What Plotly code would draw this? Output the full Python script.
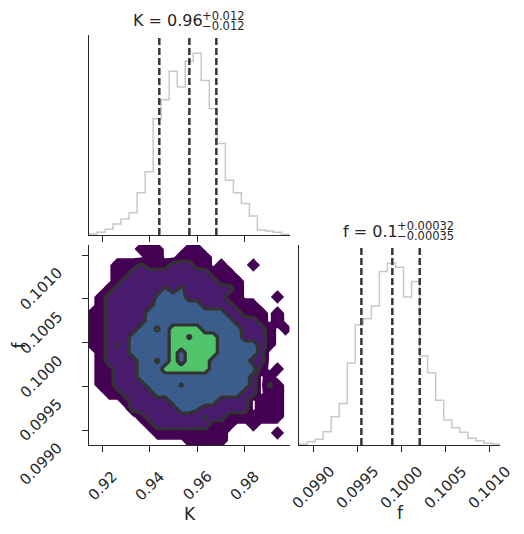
import numpy as np
import plotly.graph_objects as go

W, H = 524, 534

# ---------------- data ----------------
k_range = [0.9143, 0.9990]
f_range = [0.098833, 0.101114]
n_bins = 25

k_counts = [3, 8, 17, 33, 48, 67, 127, 190, 350, 407, 493, 445, 523, 547, 465,
            380, 275, 165, 127, 95, 57, 15, 12, 8, 2]
f_counts = [2, 10, 17, 40, 85, 125, 247, 362, 380, 418, 522, 547, 535, 445, 492,
            268, 217, 135, 75, 52, 38, 20, 13, 5, 3]

k_quantiles = [0.9440, 0.9567, 0.9681]
f_quantiles = [0.099541, 0.099892, 0.100203]

k_ticks = [0.92, 0.94, 0.96, 0.98]
k_ticklabels = ["0.92", "0.94", "0.96", "0.98"]
f_ticks = [0.0990, 0.0995, 0.1000, 0.1005, 0.1010]
f_ticklabels = ["0.0990", "0.0995", "0.1000", "0.1005", "0.1010"]

k_title = ["K = 0.96", "+0.012", "−0.012"]
f_title = ["f = 0.1", "+0.00032", "−0.00035"]

# 2D density: per grid row (top -> bottom), runs of cells (first, last) at each level
L1_rows = [
    [(6, 8), (12, 13)],
    [(7, 8), (11, 14)],
    [(3, 9), (13, 14), (16, 16), (20, 20)],
    [(3, 17)],
    [(3, 18)],
    [(2, 18)],
    [(1, 18), (23, 23)],
    [(1, 20)],
    [(0, 21), (23, 23)],
    [(0, 21), (23, 23)],
    [(0, 22), (24, 24)],
    [(0, 22)],
    [(0, 22)],
    [(1, 21)],
    [(1, 21)],
    [(1, 21), (23, 23)],
    [(1, 20), (22, 22)],
    [(1, 20), (22, 23)],
    [(2, 20), (22, 23)],
    [(4, 19), (21, 23)],
    [(5, 19), (21, 23)],
    [(6, 23)],
    [(7, 17), (20, 20)],
    [(8, 16), (23, 23)],
    [(12, 16)],
]
L2_rows = [
    [], [], [(6, 6), (10, 12)], [(5, 14)], [(4, 15)], [(3, 17)], [(2, 16)], [(2, 17)],
    [(2, 18)], [(2, 20)], [(2, 21)], [(2, 21)], [(2, 21)], [(2, 21)], [(2, 21)],
    [(3, 20)], [(3, 20)], [(3, 20)], [(4, 20)], [(5, 19)], [(5, 19)], [(7, 16)],
    [(8, 14)], [], [],
]
L3_rows = [
    [], [], [], [], [], [], [(9, 11)], [(8, 13)], [(7, 16)], [(7, 17)], [(6, 18)],
    [(5, 18)], [(5, 20)], [(5, 20)], [(6, 19)], [(6, 20)], [(6, 19)], [(7, 19)],
    [(8, 18)], [(10, 15)], [(11, 12)], [], [], [], [],
]
L4_rows = [
    [], [], [], [], [], [], [], [], [], [], [(10, 13)], [(10, 15)], [(10, 15)],
    [(10, 15)], [(10, 14)], [(9, 14)], [], [], [], [], [], [], [], [], [],
]
# single cells with in-between density (col, row, value)
cell_tweaks = [(6, 2, 1.3), (9, 5, 2.3), (11, 5, 2.35), (8, 6, 2.25), (8, 10, 3.3),
               (12, 11, 2.95), (11, 13, 2.6), (11, 14, 2.6), (8, 14, 3.25),
               (11, 17, 2.0), (14, 21, 1.0), (3, 12, 1.0), (22, 17, 1.3), (13, 20, 2.2),
               (17, 8, 1.6)]
level_values = [0.6, 1.6, 2.6, 3.6]
level_thresholds = [0.1, 1.1, 2.1, 3.1]
level_colors = ["#440154", "#481b6d", "#3a5d8c", "#50c46a"]

# ---------------- styles ----------------
INK = "#262626"
FONT = "DejaVu Sans"
HIST_COLOR = "#c8c8c8"
DASH_COLOR = "#363636"
CONTOUR_LINE = "#333333"


def px(x):
    return x / W


def py(y):
    return 1 - y / H


col1 = [89 / W, 289.5 / W]
col2 = [299 / W, 500 / W]
row1 = [py(235), py(35)]
row2 = [py(445), py(245)]

# ---------------- build 2D grid ----------------
N = n_bins
Z = np.zeros((N, N))
for lvl, rows in enumerate([L1_rows, L2_rows, L3_rows, L4_rows]):
    for j, runs in enumerate(rows):
        for a, b in runs:
            Z[j, a:b + 1] = level_values[lvl]
for i, j, v in cell_tweaks:
    Z[j, i] = v

dk = (k_range[1] - k_range[0]) / N
df = (f_range[1] - f_range[0]) / N
Zp = np.zeros((N + 2, N + 2))
Zp[1:-1, 1:-1] = Z[::-1]          # flip so row index increases with f
xc = k_range[0] + (np.arange(-1, N + 1) + 0.5) * dk
yc = f_range[0] + (np.arange(-1, N + 1) + 0.5) * df

fig = go.Figure()

# filled density levels
for t, c in zip(level_thresholds, level_colors):
    fig.add_trace(go.Contour(
        x=xc, y=yc, z=Zp,
        contours=dict(type="constraint", operation="<", value=t),
        fillcolor=c,
        line=dict(color=c, width=0, smoothing=0),
        showscale=False, hoverinfo="skip",
        xaxis="x2", yaxis="y2",
    ))
# contour lines on top (all but the outermost level)
fig.add_trace(go.Contour(
    x=xc, y=yc, z=Zp,
    autocontour=False,
    contours=dict(coloring="none", start=level_thresholds[1], end=level_thresholds[-1],
                  size=level_thresholds[2] - level_thresholds[1]),
    line=dict(color=CONTOUR_LINE, width=3.2, smoothing=0),
    showscale=False, hoverinfo="skip",
    xaxis="x2", yaxis="y2",
))


# ---------------- histograms ----------------
def step_xy(rng, counts):
    edges = np.linspace(rng[0], rng[1], len(counts) + 1)
    xs = [edges[0]] + list(edges) + [edges[-1]]
    ys = [0] + list(counts) + [counts[-1], 0]
    return xs, ys


xs, ys = step_xy(k_range, k_counts)
fig.add_trace(go.Scatter(x=xs, y=ys, mode="lines", line=dict(color=HIST_COLOR, width=1.5, shape="hv"),
                         hoverinfo="skip", xaxis="x", yaxis="y", showlegend=False))
xs, ys = step_xy(f_range, f_counts)
fig.add_trace(go.Scatter(x=xs, y=ys, mode="lines", line=dict(color=HIST_COLOR, width=1.5, shape="hv"),
                         hoverinfo="skip", xaxis="x3", yaxis="y3", showlegend=False))

shapes = []
for q in k_quantiles:
    shapes.append(dict(type="line", xref="x", yref="y domain", x0=q, x1=q, y0=0, y1=1,
                       line=dict(color=DASH_COLOR, width=2.5, dash="7px,3px")))
for q in f_quantiles:
    shapes.append(dict(type="line", xref="x3", yref="y3 domain", x0=q, x1=q, y0=0, y1=1,
                       line=dict(color=DASH_COLOR, width=2.5, dash="7px,3px")))

axis_common = dict(showline=True, linecolor=INK, linewidth=1.25, showgrid=False, zeroline=False,
                   ticks="outside", ticklen=6, tickwidth=1.25, tickcolor=INK, showticklabels=False)
hist_y = dict(showline=True, linecolor=INK, linewidth=1.25, showgrid=False, zeroline=False,
              ticks="", showticklabels=False)

fig.update_layout(
    width=W, height=H, autosize=False,
    margin=dict(l=0, r=0, t=0, b=0),
    paper_bgcolor="white", plot_bgcolor="white",
    showlegend=False,
    shapes=shapes,
    xaxis=dict(domain=col1, anchor="y", range=k_range, tickvals=k_ticks, **axis_common),
    yaxis=dict(domain=row1, anchor="x", range=[0, 1.1 * max(k_counts)], **hist_y),
    xaxis2=dict(domain=col1, anchor="y2", range=k_range, tickvals=k_ticks, **axis_common),
    yaxis2=dict(domain=row2, anchor="x2", range=f_range, tickvals=f_ticks, **axis_common),
    xaxis3=dict(domain=col2, anchor="y3", range=f_range, tickvals=f_ticks, **axis_common),
    yaxis3=dict(domain=row2, anchor="x3", range=[0, 1.1 * max(f_counts)], **hist_y),
)

ann = []
tfont = dict(family=FONT, size=15, color=INK)
for v, s in zip(k_ticks, k_ticklabels):
    ann.append(dict(text=s, x=v, xref="x2", y=py(465), yref="paper", textangle=-45,
                    xanchor="center", yanchor="top", showarrow=False, font=tfont))
for v, s in zip(f_ticks, f_ticklabels):
    ann.append(dict(text=s, x=v, xref="x3", y=py(459), yref="paper", textangle=-45,
                    xanchor="center", yanchor="top", showarrow=False, font=tfont))
for v, s in zip(f_ticks, f_ticklabels):
    ann.append(dict(text=s, x=px(69), xref="paper", y=v, yref="y2", yshift=-6, textangle=-45,
                    xanchor="right", yanchor="top", showarrow=False, font=tfont))

lfont = dict(family=FONT, size=17, color=INK)
ann.append(dict(text="K", x=px(190), y=py(514), xref="paper", yref="paper", showarrow=False,
                xanchor="center", yanchor="middle", font=lfont))
ann.append(dict(text="f", x=px(400), y=py(512.5), xref="paper", yref="paper", showarrow=False,
                xanchor="center", yanchor="middle", font=lfont))
ann.append(dict(text="f", x=px(18.5), y=py(345), xref="paper", yref="paper", showarrow=False,
                xanchor="center", yanchor="middle", textangle=-90, font=lfont))

mfont = dict(family=FONT, size=16, color=INK)
sfont = dict(family=FONT, size=11.5, color=INK)
for title, xr, ym in [(k_title, 205, 21), (f_title, 400, 231)]:
    ann.append(dict(text=title[0], x=px(xr), y=py(ym), xref="paper", yref="paper", showarrow=False,
                    xanchor="right", yanchor="middle", font=mfont))
    ann.append(dict(text=title[1], x=px(xr - 4), y=py(ym - 5), xref="paper", yref="paper", showarrow=False,
                    xanchor="left", yanchor="middle", borderpad=0, font=sfont))
    ann.append(dict(text=title[2], x=px(xr - 4), y=py(ym + 5), xref="paper", yref="paper", showarrow=False,
                    xanchor="left", yanchor="middle", borderpad=0, font=sfont))

fig.update_layout(annotations=ann)
fig.write_html("out.html")
